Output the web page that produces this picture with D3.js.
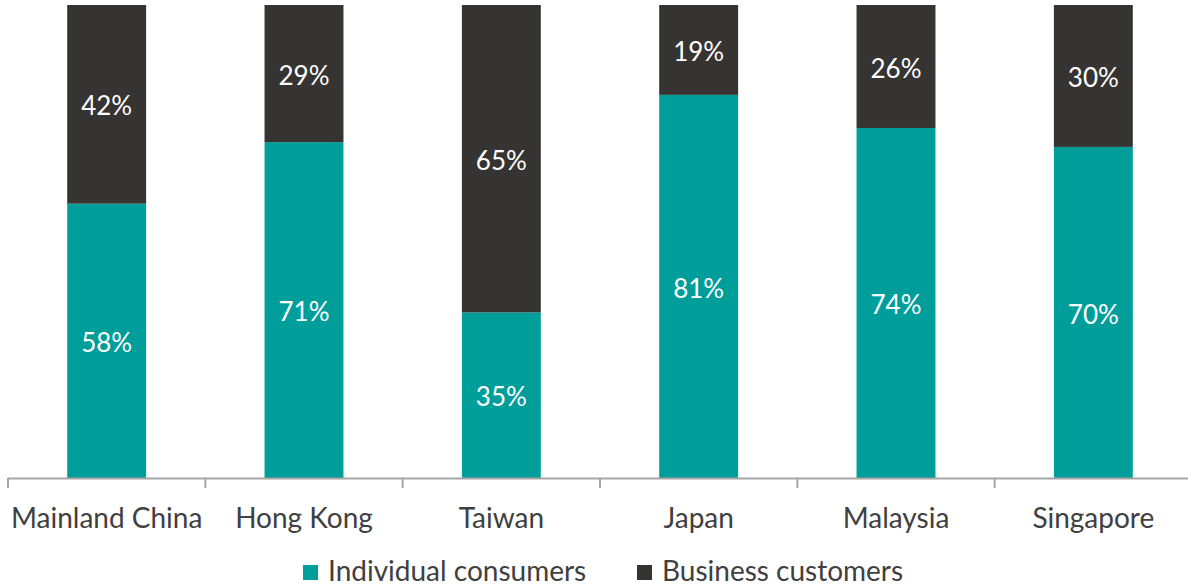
<!DOCTYPE html>
<html>
<head>
<meta charset="utf-8">
<script src="https://cdn.jsdelivr.net/npm/d3@7"></script>
<style>
  html, body { margin: 0; padding: 0; background: #fff; }
  svg { display: block; }
  text { font-family: Lato, "Open Sans", sans-serif; }
</style>
</head>
<body>
<svg id="chart" width="1188" height="588"></svg>
<script>
// Share of customers by type, per market (percent)
const regions = ["Mainland China", "Hong Kong", "Taiwan", "Japan", "Malaysia", "Singapore"];
const individual = [58, 71, 35, 81, 74, 70];
const business = [42, 29, 65, 19, 26, 30];
const seriesNames = ["Individual consumers", "Business customers"];
const seriesColors = ["#009E9A", "#363432"];

const svg = d3.select("#chart");
const plotTop = 5, plotBottom = 478, plotLeft = 8, plotRight = 1192;

const x = d3.scaleBand().domain(regions).range([plotLeft, plotRight]).paddingInner(0.6).paddingOuter(0.3);
const y = d3.scaleLinear().domain([0, 100]).range([plotBottom, plotTop]);

const rows = regions.map((r, i) => ({ region: r, individual: individual[i], business: business[i] }));
const stacked = d3.stack().keys(["individual", "business"])(rows);

const layers = svg.append("g").selectAll("g")
  .data(stacked).join("g")
  .attr("fill", (d, i) => seriesColors[i]);

layers.selectAll("rect")
  .data(d => d).join("rect")
  .attr("x", d => x(d.data.region))
  .attr("width", x.bandwidth())
  .attr("y", d => y(d[1]))
  .attr("height", d => y(d[0]) - y(d[1]));

layers.selectAll("text")
  .data(d => d.map(v => ({ v, key: d.key }))).join("text")
  .attr("x", d => x(d.v.data.region) + x.bandwidth() / 2)
  .attr("y", d => (y(d.v[0]) + y(d.v[1])) / 2 + 2)
  .attr("dy", "0.35em")
  .attr("text-anchor", "middle")
  .attr("fill", "#fff")
  .attr("font-size", 26)
  .text(d => d.v.data[d.key] + "%");

// Category axis with ticks between bands
const axisG = svg.append("g");
axisG.append("line")
  .attr("x1", plotLeft).attr("x2", plotRight)
  .attr("y1", plotBottom + 0.5).attr("y2", plotBottom + 0.5)
  .attr("stroke", "#a6a6a6").attr("stroke-width", 2);
const edges = regions.map(r => x(r) - x.step() * x.paddingOuter()).concat([plotRight]);
axisG.selectAll("line.tick")
  .data(edges).join("line")
  .attr("class", "tick")
  .attr("x1", d => d).attr("x2", d => d)
  .attr("y1", plotBottom).attr("y2", plotBottom + 10)
  .attr("stroke", "#a6a6a6").attr("stroke-width", 2);
axisG.selectAll("text")
  .data(regions).join("text")
  .attr("x", d => x(d) + x.bandwidth() / 2)
  .attr("y", 528)
  .attr("text-anchor", "middle")
  .attr("fill", "#404040")
  .attr("font-size", 28)
  .text(d => d);

// Legend
const legend = svg.append("g");
const legendX = [303, 637];
seriesNames.forEach((name, i) => {
  legend.append("rect")
    .attr("x", legendX[i]).attr("y", 565)
    .attr("width", 15).attr("height", 15)
    .attr("fill", seriesColors[i]);
  legend.append("text")
    .attr("x", legendX[i] + 25).attr("y", 581)
    .attr("fill", "#404040")
    .attr("font-size", 28)
    .text(name);
});
</script>
</body>
</html>
